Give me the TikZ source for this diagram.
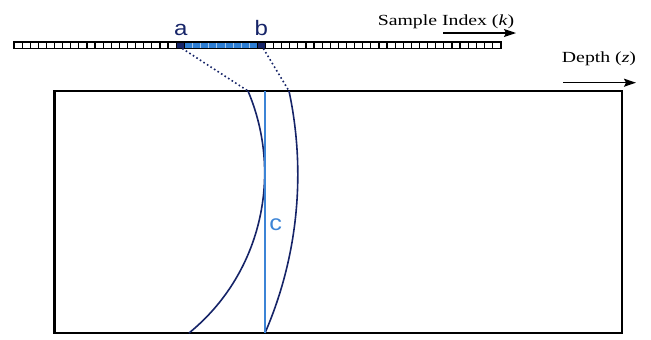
\documentclass[tikz,border=0pt]{standalone}
\usepackage{fontspec}
\setmainfont{Liberation Serif}
\newfontfamily\labelfont{Liberation Sans}
\usepackage{tikz}
\usetikzlibrary{arrows.meta,calc}
\definecolor{navy}{RGB}{22,36,104}
\definecolor{binblue}{RGB}{45,126,212}
\definecolor{rayblue}{RGB}{60,132,214}
\tikzset{
  cell/.style={draw=black,line width=1.2bp,fill=white,minimum width=8.11bp,
    minimum height=6.5bp,inner sep=0pt,outer sep=0pt},
  bincell/.style={cell,fill=binblue,draw=white!55!binblue,line width=0.6bp},
  endcell/.style={cell,fill=navy},
  stripframe/.style={line width=1.8bp},
  field/.style={draw=black,line width=2.3bp,minimum width=567.5bp,
    minimum height=242bp,inner sep=0pt},
  wave/.style={navy,line width=1.6bp},
  ray/.style={navy,line width=1.6bp,dash pattern=on 1.6bp off 2.6bp},
  chord/.style={rayblue,line width=1.3bp},
  axisarrow/.style={-{Stealth[length=12bp,width=8bp,inset=2bp]},line width=1.3bp},
  axislabel/.style={font=\fontsize{15.5}{17}\selectfont,xscale=1.28,
    inner sep=0pt,anchor=base},
  binlabel/.style={font=\labelfont\fontsize{21}{23}\selectfont,text=navy,
    xscale=1.15,inner sep=0pt,anchor=base}
}

\begin{document}
\begin{tikzpicture}[x=1bp,y=-1bp]
  \useasboundingbox (0,0) rectangle (651,339);

  % sample strip
  \foreach \i in {0,...,19}
    \node[cell] (k\i) at ({18.05+8.11*\i},45.25) {};
  \foreach \i in {31,...,59}
    \node[cell] (k\i) at ({18.05+8.11*\i},45.25) {};
  \foreach \i in {21,...,29}
    \node[bincell] (k\i) at ({18.05+8.11*\i},45.25) {};
  \node[endcell] (k20) at ({18.05+8.11*20},45.25) {};
  \node[endcell] (k30) at ({18.05+8.11*30},45.25) {};
  \draw[stripframe] (k0.north west) rectangle (k59.south east);

  \node[binlabel] (la) at (180.8,35) {a};
  \node[binlabel] (lb) at (261.3,35) {b};

  \node[axislabel] (sidx) at (446,25) {Sample Index (\textit{k})};
  \coordinate (s0) at (443,33);
  \coordinate (s1) at (516,33);
  \draw[axisarrow] (s0) -- (s1);

  \node[axislabel] (depth) at (599,62.7) {Depth (\textit{z})};
  \coordinate (d0) at (563,82.7);
  \coordinate (d1) at (636,82.7);
  \draw[axisarrow] (d0) -- (d1);

  % medium
  \node[field] (field) at (338.25,212) {};
  \coordinate (wa) at (248,91);
  \coordinate (wa') at (189,333);
  \coordinate (wb) at (289,91);
  \coordinate (wb') at (265,333);
  \coordinate (c0) at (265,91);

  \draw[ray] ([xshift=2bp]k20.south) -- (wa);
  \draw[ray] ([xshift=2bp]k30.south) -- (wb);
  \draw[wave] (wa) .. controls +(36,85) and +(71.4,-58) .. (wa');
  \draw[wave] (wb) .. controls +(17.3,81.2) and +(33,-76.2) .. (wb');
  \draw[chord] (c0) -- (wb');
  \node[binlabel,text=rayblue,font=\labelfont\fontsize{22}{24}\selectfont]
    (lc) at (275.7,230) {c};
\end{tikzpicture}
\end{document}
